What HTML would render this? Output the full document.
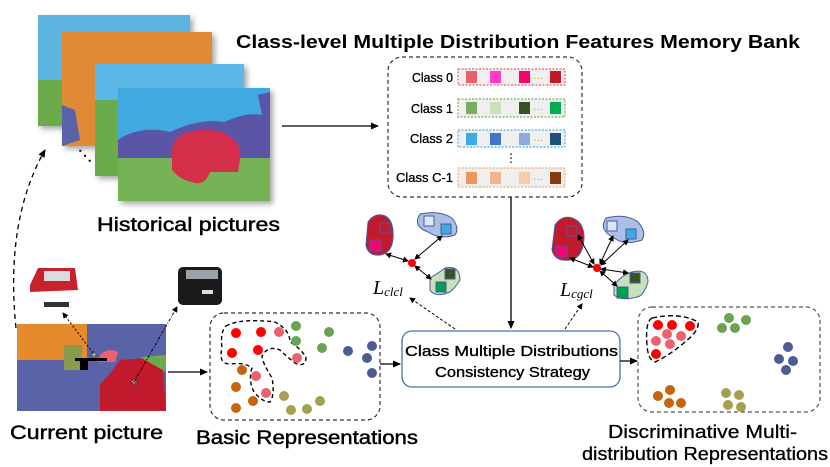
<!DOCTYPE html>
<html><head><meta charset="utf-8"><style>
html,body{margin:0;padding:0;background:#fff;}
svg{display:block;font-family:"Liberation Sans",sans-serif;}
.m{stroke:#000;stroke-width:0.45;}
</style></head><body>
<svg width="830" height="467" viewBox="0 0 830 467" xmlns="http://www.w3.org/2000/svg">
<defs>
<marker id="ah" markerWidth="8" markerHeight="8" refX="7" refY="4" orient="auto" markerUnits="userSpaceOnUse"><path d="M0,0.5 L8,4 L0,7.5 Z" fill="#000"/></marker>
<marker id="ah2" markerWidth="6" markerHeight="6" refX="5" refY="3" orient="auto-start-reverse" markerUnits="userSpaceOnUse"><path d="M0,0 L6,3 L0,6 Z" fill="#000"/></marker>
<filter id="sh" x="-10%" y="-10%" width="130%" height="130%"><feDropShadow dx="3" dy="3" stdDeviation="3" flood-opacity="0.35"/></filter>
</defs>

<g filter="url(#sh)">
<rect x="38" y="15" width="152" height="111" fill="#5bb4e0"/>
<rect x="38" y="80" width="152" height="46" fill="#6aab4c"/>
<rect x="62" y="32" width="150" height="114" fill="#e08a34"/>
<path d="M62,105 L75,110 L80,140 L62,146 Z" fill="#5a62a8"/>
<rect x="95" y="64" width="149" height="112" fill="#5bb8e6"/>
<rect x="95" y="100" width="149" height="76" fill="#6aab4c"/>
<rect x="118" y="88" width="152" height="113" fill="#3fa9e0"/>
<path d="M118,140 Q140,125 170,132 Q200,118 225,122 Q245,112 262,115 L258,95 L270,92 L270,168 L118,168 Z" fill="#5a55a6"/>
<rect x="118" y="158" width="152" height="43" fill="#74b356"/>
<path d="M172,152 Q172,135 190,132 Q215,125 232,138 Q242,145 240,160 L238,172 L210,172 Q205,185 195,183 Q180,180 172,170 Z" fill="#d42d4c"/>
</g>
<text x="78" y="160" font-size="14" font-weight="bold">⋱</text>
<text x="97" y="231" font-size="19" class="m" textLength="183" lengthAdjust="spacingAndGlyphs">Historical pictures</text>

<text x="236" y="48" font-size="18.5" font-weight="bold" textLength="564" lengthAdjust="spacingAndGlyphs">Class-level Multiple Distribution Features Memory Bank</text>

<line x1="282" y1="126" x2="378" y2="126" stroke="#000" stroke-width="1.3" marker-end="url(#ah)"/>

<rect x="388" y="57" width="194" height="140" rx="14" fill="none" stroke="#333" stroke-width="1.2" stroke-dasharray="4,3"/>
<g font-size="12.5" class="m" style="stroke-width:0.3">
<text x="412" y="82" textLength="41" lengthAdjust="spacingAndGlyphs">Class 0</text>
<text x="411" y="113" textLength="42" lengthAdjust="spacingAndGlyphs">Class 1</text>
<text x="410" y="143" textLength="43" lengthAdjust="spacingAndGlyphs">Class 2</text>
<text x="396" y="182" textLength="57" lengthAdjust="spacingAndGlyphs">Class C-1</text>
</g>
<g stroke-dasharray="2,1.5" stroke-width="1.2">
<rect x="458" y="69" width="107" height="16" fill="#efefef" stroke="#ee5c6a"/>
<rect x="458" y="99" width="107" height="18" fill="#efefef" stroke="#7cb45a"/>
<rect x="458" y="130" width="107" height="17" fill="#efefef" stroke="#3fb6ee"/>
<rect x="458" y="168" width="107" height="19" fill="#efefef" stroke="#f2a878"/>
</g>
<g>
<rect x="466" y="71" width="11" height="12" fill="#ec5f6c"/><rect x="490" y="71" width="11" height="12" fill="#ff3dc4"/><rect x="519" y="71" width="11" height="12" fill="#ff006a"/><rect x="550" y="71" width="11" height="12" fill="#c3182b"/>
<rect x="466" y="102" width="11" height="12" fill="#7bab5e"/><rect x="490" y="102" width="11" height="12" fill="#c7e1b9"/><rect x="519" y="102" width="11" height="12" fill="#375323"/><rect x="550" y="102" width="11" height="12" fill="#00b050"/>
<rect x="466" y="133" width="11" height="12" fill="#3fa9e5"/><rect x="490" y="133" width="11" height="12" fill="#4472c4"/><rect x="519" y="133" width="11" height="12" fill="#8faadc"/><rect x="550" y="133" width="11" height="12" fill="#1f4e79"/>
<rect x="466" y="172" width="11" height="12" fill="#f0965a"/><rect x="490" y="172" width="11" height="12" fill="#f2b48c"/><rect x="519" y="172" width="11" height="12" fill="#f8cbad"/><rect x="550" y="172" width="11" height="12" fill="#843c0c"/>
</g>
<g font-size="10" fill="#c9a000"><text x="533" y="81">···</text><text x="533" y="112">···</text><text x="533" y="143">···</text><text x="533" y="182">···</text></g>
<text x="511" y="162" font-size="12" text-anchor="middle">⋮</text>

<line x1="511" y1="197" x2="511" y2="328" stroke="#000" stroke-width="1.3" marker-end="url(#ah)"/>

<g>
<path d="M368,222 Q375,212 385,216 Q394,220 393,238 Q392,253 380,255 Q368,256 366,245 Z" fill="#c01a2c" stroke="#4a5aa0" stroke-width="1"/>
<rect x="380" y="223" width="10" height="10" fill="#c01a2c" stroke="#4a5aa0"/>
<rect x="370" y="240" width="11" height="11" fill="#ff006a" stroke="#4a5aa0"/>
<path d="M420,214 Q440,210 452,218 Q460,228 455,235 Q440,240 428,232 Q412,226 420,214 Z" fill="#a9bfe6" stroke="#4a5aa0"/>
<rect x="424" y="216" width="10" height="10" fill="#dde6f5" stroke="#4a5aa0"/>
<rect x="441" y="224" width="10" height="10" fill="#3fa9e5" stroke="#4a5aa0"/>
<path d="M430,278 Q440,272 445,268 Q460,265 460,280 Q455,288 450,292 Q435,298 430,290 Z" fill="#c7e1b9" stroke="#4a5aa0"/>
<rect x="445" y="269" width="10" height="10" fill="#375323" stroke="#4a5aa0"/>
<rect x="436" y="282" width="10" height="10" fill="#00a050" stroke="#4a5aa0"/>
<circle cx="412" cy="263" r="4" fill="#f00"/>
<line x1="386" y1="254" x2="408" y2="261" stroke="#000" stroke-width="1" marker-start="url(#ah2)" marker-end="url(#ah2)"/>
<line x1="415" y1="259" x2="442" y2="236" stroke="#000" stroke-width="1" marker-start="url(#ah2)" marker-end="url(#ah2)"/>
<line x1="415" y1="266" x2="431" y2="279" stroke="#000" stroke-width="1" marker-start="url(#ah2)" marker-end="url(#ah2)"/>
</g>
<text x="373" y="294" font-family="Liberation Serif,serif" font-style="italic" font-size="20">L<tspan font-size="13" dy="2">clcl</tspan></text>

<g>
<path d="M555,225 Q562,215 572,218 Q584,222 584,238 Q583,258 570,260 Q555,262 552,250 Z" fill="#c01a2c" stroke="#4a5aa0"/>
<rect x="567" y="226" width="10" height="10" fill="#c01a2c" stroke="#4a5aa0"/>
<rect x="556" y="246" width="11" height="11" fill="#ff006a" stroke="#4a5aa0"/>
<path d="M606,218 Q626,213 638,222 Q647,232 642,240 Q625,246 614,238 Q598,230 606,218 Z" fill="#a9bfe6" stroke="#4a5aa0"/>
<rect x="607" y="221" width="10" height="10" fill="#dde6f5" stroke="#4a5aa0"/>
<rect x="626" y="229" width="10" height="10" fill="#3fa9e5" stroke="#4a5aa0"/>
<path d="M614,285 Q622,275 632,272 Q648,268 648,282 Q645,292 640,296 Q622,302 614,295 Z" fill="#c7e1b9" stroke="#4a5aa0"/>
<rect x="630" y="273" width="10" height="10" fill="#375323" stroke="#4a5aa0"/>
<rect x="617" y="287" width="11" height="11" fill="#00a050" stroke="#4a5aa0"/>
<circle cx="597" cy="268" r="4" fill="#f00"/>
<g stroke="#000" stroke-width="1">
<line x1="578" y1="235" x2="594" y2="264" marker-start="url(#ah2)" marker-end="url(#ah2)"/>
<line x1="570" y1="258" x2="593" y2="267" marker-start="url(#ah2)" marker-end="url(#ah2)"/>
<line x1="600" y1="264" x2="613" y2="236" marker-start="url(#ah2)" marker-end="url(#ah2)"/>
<line x1="601" y1="265" x2="628" y2="240" marker-start="url(#ah2)" marker-end="url(#ah2)"/>
<line x1="601" y1="269" x2="628" y2="273" marker-start="url(#ah2)" marker-end="url(#ah2)"/>
<line x1="600" y1="271" x2="617" y2="286" marker-start="url(#ah2)" marker-end="url(#ah2)"/>
</g>
</g>
<text x="560" y="296" font-family="Liberation Serif,serif" font-style="italic" font-size="20">L<tspan font-size="13" dy="2">cgcl</tspan></text>

<line x1="455" y1="329" x2="410" y2="298" stroke="#000" stroke-width="1" stroke-dasharray="3,2" marker-end="url(#ah2)"/>
<line x1="565" y1="329" x2="582" y2="304" stroke="#000" stroke-width="1" stroke-dasharray="3,2" marker-end="url(#ah2)"/>

<rect x="402" y="331" width="218" height="56" rx="10" fill="#fff" stroke="#4a6fb0" stroke-width="1.3"/>
<text x="405" y="356" font-size="15" class="m" style="stroke-width:0.35" textLength="213" lengthAdjust="spacingAndGlyphs">Class Multiple Distributions</text>
<text x="435" y="377" font-size="15" class="m" style="stroke-width:0.35" textLength="155" lengthAdjust="spacingAndGlyphs">Consistency Strategy</text>

<rect x="17" y="324" width="149" height="87" fill="#5a62a8"/>
<rect x="17" y="324" width="70" height="45" fill="#e68a2e"/>
<rect x="17" y="360" width="50" height="51" fill="#5a62a8"/>
<rect x="64" y="345" width="18" height="25" fill="#8a9a50"/>
<path d="M113,370 L120,360 L150,358 L163,368 L166,411 L100,411 L100,385 Z" fill="#c11a2c"/>
<path d="M140,357 L166,355 L166,372 Z" fill="#6aab4c"/>
<path d="M100,355 Q108,347 118,352 L115,362 L98,362 Z" fill="#ee6070"/>
<rect x="75" y="358" width="32" height="3" fill="#000"/>
<rect x="80" y="360" width="8" height="10" fill="#000"/>
<text x="94" y="359" font-size="12" font-weight="bold" fill="#fff" stroke="#000" stroke-width="0.5" text-anchor="middle">+</text>
<text x="134" y="386" font-size="12" font-weight="bold" fill="#fff" stroke="#000" stroke-width="0.5" text-anchor="middle">+</text>
<path d="M30,285 L38,268 L75,268 L78,290 L30,292 Z" fill="#c8202c"/>
<rect x="44" y="271" width="26" height="10" fill="#dcdcdc"/>
<rect x="44" y="302" width="25" height="5" fill="#333"/>
<rect x="178" y="267" width="44" height="38" rx="5" fill="#1a1a1a"/>
<rect x="186" y="270" width="32" height="9" fill="#9aa3a8"/>
<rect x="202" y="290" width="11" height="4" fill="#ddd"/>
<line x1="93" y1="353" x2="63" y2="313" stroke="#000" stroke-width="1" stroke-dasharray="2,2" marker-end="url(#ah2)"/>
<line x1="134" y1="382" x2="177" y2="307" stroke="#000" stroke-width="1" stroke-dasharray="3,1.5,1,1.5" marker-end="url(#ah2)"/>
<path d="M16,328 Q5,220 45,150" fill="none" stroke="#000" stroke-width="1.3" stroke-dasharray="5,4" marker-end="url(#ah)"/>
<text x="10" y="439" font-size="19" class="m" textLength="153" lengthAdjust="spacingAndGlyphs">Current picture</text>

<line x1="168" y1="372" x2="207" y2="372" stroke="#000" stroke-width="1.3" marker-end="url(#ah)"/>

<rect x="210" y="313" width="170" height="107" rx="14" fill="none" stroke="#333" stroke-width="1.2" stroke-dasharray="4,3"/>
<path d="M226,326 Q240,318 275,322 Q290,330 290,342 Q300,348 306,357 Q306,368 295,363 Q285,355 280,350 Q268,345 262,356 Q262,362 272,378 Q275,395 270,402 Q262,402 254,392 Q248,380 252,368 Q245,362 230,364 Q218,364 222,348 Q220,332 226,326 Z" fill="none" stroke="#000" stroke-width="1.4" stroke-dasharray="4,3"/>
<g>
<circle cx="236" cy="333" r="5" fill="#f00"/><circle cx="261" cy="332" r="5" fill="#f00"/><circle cx="232" cy="353" r="5" fill="#f00"/><circle cx="258" cy="350" r="5" fill="#f00"/>
<circle cx="279" cy="332" r="5" fill="#ee6070"/><circle cx="297" cy="358" r="5" fill="#ee6070"/><circle cx="256" cy="376" r="5" fill="#ee6070"/><circle cx="266" cy="393" r="5" fill="#ee6070"/>
<circle cx="296" cy="326" r="5" fill="#6aa352"/><circle cx="329" cy="332" r="5" fill="#6aa352"/><circle cx="296" cy="341" r="5" fill="#6aa352"/><circle cx="322" cy="348" r="5" fill="#6aa352"/>
<circle cx="348" cy="351" r="5" fill="#4e5c94"/><circle cx="372" cy="346" r="5" fill="#4e5c94"/><circle cx="367" cy="358" r="5" fill="#4e5c94"/><circle cx="372" cy="373" r="5" fill="#4e5c94"/>
<circle cx="242" cy="370" r="5" fill="#c7650f"/><circle cx="236" cy="387" r="5" fill="#c7650f"/><circle cx="253" cy="401" r="5" fill="#c7650f"/><circle cx="236" cy="408" r="5" fill="#c7650f"/>
<circle cx="284" cy="396" r="5" fill="#a3a052"/><circle cx="291" cy="410" r="5" fill="#a3a052"/><circle cx="307" cy="409" r="5" fill="#a3a052"/><circle cx="320" cy="401" r="5" fill="#a3a052"/>
</g>
<text x="196" y="444" font-size="19" class="m" textLength="222" lengthAdjust="spacingAndGlyphs">Basic Representations</text>

<line x1="380" y1="364" x2="400" y2="364" stroke="#000" stroke-width="1.3" marker-end="url(#ah)"/>
<line x1="620" y1="361" x2="637" y2="361" stroke="#000" stroke-width="1.3" marker-end="url(#ah)"/>

<rect x="638" y="307" width="182" height="105" rx="14" fill="none" stroke="#555" stroke-width="1.2" stroke-dasharray="4,3"/>
<path d="M652,318 Q680,312 698,322 Q700,330 685,342 Q670,355 655,362 Q648,360 647,345 Q645,322 652,318 Z" fill="none" stroke="#000" stroke-width="1.4" stroke-dasharray="5,3"/>
<g>
<circle cx="658" cy="325" r="5" fill="#f00"/><circle cx="672" cy="325" r="5" fill="#f00"/><circle cx="690" cy="326" r="5" fill="#f00"/><circle cx="656" cy="354" r="5" fill="#f00"/>
<circle cx="667" cy="334" r="5" fill="#ee6070"/><circle cx="681" cy="336" r="5" fill="#ee6070"/><circle cx="656" cy="341" r="5" fill="#ee6070"/><circle cx="670" cy="344" r="5" fill="#ee6070"/>
<circle cx="729" cy="318" r="5" fill="#6aa352"/><circle cx="746" cy="320" r="5" fill="#6aa352"/><circle cx="735" cy="328" r="5" fill="#6aa352"/><circle cx="722" cy="328" r="5" fill="#6aa352"/>
<circle cx="788" cy="347" r="5" fill="#4e5c94"/><circle cx="779" cy="359" r="5" fill="#4e5c94"/><circle cx="793" cy="361" r="5" fill="#4e5c94"/><circle cx="786" cy="370" r="5" fill="#4e5c94"/>
<circle cx="658" cy="396" r="5" fill="#c7650f"/><circle cx="670" cy="390" r="5" fill="#c7650f"/><circle cx="669" cy="403" r="5" fill="#c7650f"/><circle cx="681" cy="403" r="5" fill="#c7650f"/>
<circle cx="726" cy="393" r="5" fill="#a3a052"/><circle cx="739" cy="395" r="5" fill="#a3a052"/><circle cx="728" cy="405" r="5" fill="#a3a052"/><circle cx="741" cy="407" r="5" fill="#a3a052"/>
</g>
<text x="608" y="438" font-size="18" class="m" style="stroke-width:0.3" textLength="189" lengthAdjust="spacingAndGlyphs">Discriminative Multi-</text>
<text x="582" y="460" font-size="18" class="m" style="stroke-width:0.3" textLength="246" lengthAdjust="spacingAndGlyphs">distribution Representations</text>
</svg>
</body></html>
